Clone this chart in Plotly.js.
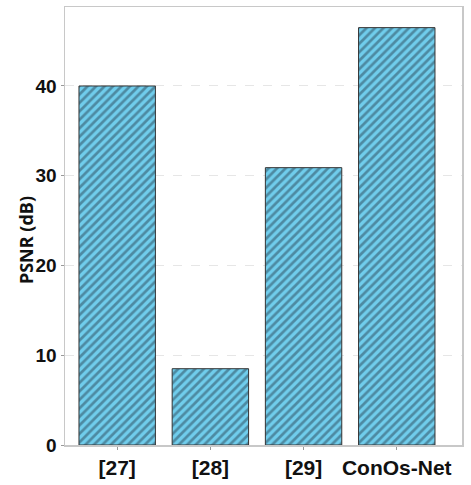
<!DOCTYPE html>
<html><head><meta charset="utf-8">
<script src="https://cdn.plot.ly/plotly-3.0.1.min.js"></script>
<style>html,body{margin:0;padding:0;background:#fff}</style>
</head><body>
<div id="chart" style="width:471px;height:485px"></div>
<script>
const methods = ["[27]", "[28]", "[29]", "ConOs-Net"];
const psnr = [40.0, 8.5, 30.9, 46.5];
const yTicks = [0, 10, 20, 30, 40];
const yTitle = "PSNR (dB)";

const trace = {
  type: "bar",
  x: methods,
  y: psnr,
  width: 0.82,
  marker: {
    color: "#70cdec",
    line: {color: "#333333", width: 1},
    pattern: {shape: "/", fgcolor: "#2a4858", bgcolor: "#70cdec", size: 6, solidity: 0.45, fillmode: "overlay"}
  },
  hoverinfo: "none"
};

const layout = {
  width: 471, height: 485,
  margin: {l: 65, r: 9, t: 7, b: 40},
  paper_bgcolor: "#fff", plot_bgcolor: "#fff",
  showlegend: false,
  xaxis: {
    range: [-0.56, 3.70],
    showline: true, mirror: true, linecolor: "#c8c8c8", linewidth: 1.5,
    ticks: "outside", ticklen: 3, tickcolor: "#999",
    tickfont: {family: "Liberation Sans, Arial, sans-serif", size: 21, color: "#111", weight: "bold"},
    showgrid: false
  },
  yaxis: {
    range: [0, 48.8],
    tickvals: yTicks,
    showline: true, mirror: true, linecolor: "#c8c8c8", linewidth: 1.5,
    ticks: "outside", ticklen: 3, tickcolor: "#999",
    tickfont: {family: "Liberation Sans, Arial, sans-serif", size: 19, color: "#111", weight: "bold"},
    showgrid: true, gridcolor: "#e6e6e6", griddash: "dash", gridwidth: 1,
    zeroline: false
  },
  annotations: [{
    text: yTitle, textangle: -90, showarrow: false,
    xref: "paper", yref: "paper", x: -0.098, y: 0.468,
    xanchor: "center", yanchor: "middle",
    font: {family: "Open Sans, sans-serif", size: 18, color: "#111", weight: "bold"}
  }]
};

Plotly.newPlot("chart", [trace], layout, {displayModeBar: false, staticPlot: true});
</script>
</body></html>
